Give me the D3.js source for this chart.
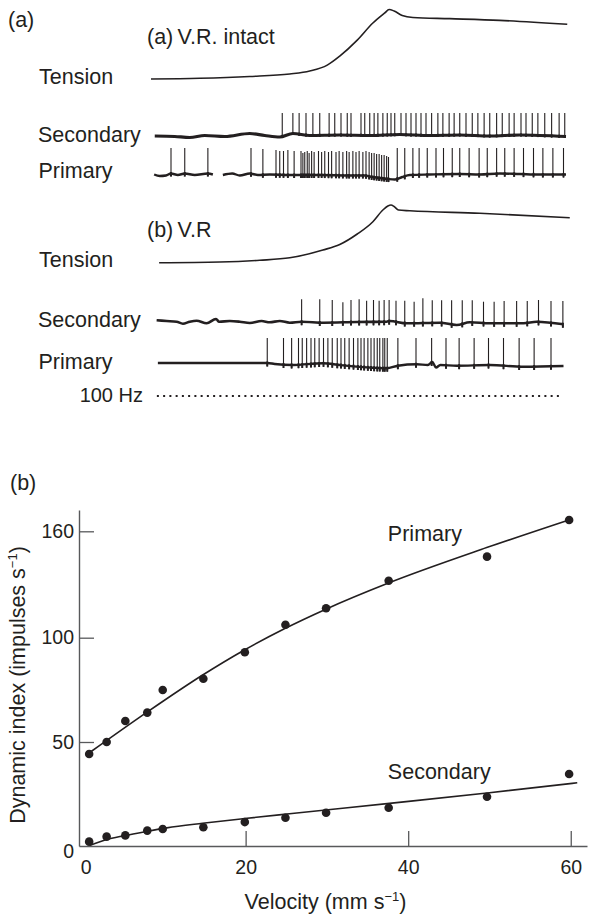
<!DOCTYPE html>
<html>
<head>
<meta charset="utf-8">
<script src="https://cdn.jsdelivr.net/npm/d3@7/dist/d3.min.js"></script>
<style>
  html, body { margin:0; padding:0; background:#fff; }
  svg { display:block; }
  text { font-family: "Liberation Sans", Arial, Helvetica, sans-serif; fill:#231f20; }
</style>
</head>
<body>
<svg id="fig" width="591" height="915"></svg>
<script>
// ================= DATA =================
// ---- Panel (a): recordings, time in ms from start of sweep ----
const sweepMs = [0, 672];

// Tension, % of peak
const tensionIntactT = [0, 78, 158, 222, 254, 282, 302, 330, 355, 374, 381, 389, 402, 419, 478, 558, 666];
const tensionIntactV = [0, 1, 3.6, 7.2, 11.5, 20, 33, 56, 80.6, 95, 100, 97.8, 91.4, 88.5, 86.8, 84.3, 78.7];
const tensionCutT = [13, 110, 174, 222, 275, 302, 330, 355, 371, 379, 384, 389, 396, 414, 526, 670];
const tensionCutV = [0, 1.2, 4.2, 8.5, 22, 31.5, 49.7, 71, 91.3, 98.3, 100, 97.4, 91.3, 90, 85.8, 78];

// (a) V.R. intact — secondary ending
const secIntactBaseT = [6, 38, 62, 86, 118, 158, 182, 206, 227, 254, 302, 350, 398, 446, 494, 542, 590, 664];
const secIntactBaseV = [0, -0.5, -1.5, 0.5, -0.5, 2.5, 0.5, -1, 2.5, 0.5, 1, 0.5, 1.5, 0.5, 1, 0, 1, -0.5];
const secIntactSpikeT = [210, 227, 237, 248, 259, 270, 285, 294, 304, 314, 320, 336, 342, 350, 357, 363, 371, 378, 384, 390,
  400, 408, 416, 424, 432, 440, 449, 459, 467, 477, 485, 494, 504, 514, 523, 533, 542, 553, 562, 573, 581, 592, 600, 610,
  619, 630, 641, 653, 662];
const secIntactSpikeAmp = 23;

// (a) V.R. intact — primary ending (two pieces of trace)
const priIntactBase1T = [5, 14, 24, 32, 43, 54, 70, 91, 99];
const priIntactBase1V = [-0.5, -2, -1.5, 0.5, -1, 0.5, -1, 0.5, -0.5];
const priIntactBase2T = [115, 130, 142, 158, 171, 190, 222, 270, 318, 342, 354, 366, 379, 390, 402, 414, 446, 494, 526, 558, 590, 622, 664];
const priIntactBase2V = [-1, 0.5, -1.5, 0.5, -1, -0.5, -1, -1, -1.5, -1.5, -3, -4, -5, -5.5, -3, -1, -0.5, 0, -0.5, 0.5, 0, -0.5, -0.5];
const priIntactSpikeT = [32, 54, 91, 160, 179, 200, 206, 212, 219, 229, 240, 243, 246, 250, 253, 257, 261, 268, 273, 278,
  284, 289, 296, 301, 307, 313, 317, 323, 328, 333, 339, 344, 349, 353, 357, 361, 365, 369, 373, 377, 380,
  394, 406, 419, 429, 442, 456, 468, 482, 494, 509, 525, 538, 553, 566, 581, 596, 612, 627, 643, 660];
const priIntactSpikeAmp = [26, 26, 26, 26, 25, 24, 23, 23, 24, 23, 23, 21, 22, 23, 21, 23, 22, 23, 22, 23,
  22, 23, 22, 23, 22, 23, 22, 23, 22, 23, 22, 23, 22, 21, 21, 20, 20, 19, 19, 18, 17,
  26, 26, 26, 26, 26, 26, 26, 26, 26, 26, 26, 26, 26, 26, 26, 26, 26, 26, 26, 26];

// (b) V.R cut — secondary ending
const secCutBaseT = [9, 25, 41, 51, 62, 73, 89, 104, 109, 126, 142, 158, 177, 190, 206, 222, 241, 276, 329, 377, 382, 409, 462, 489, 510, 542, 596, 617, 660];
const secCutBaseV = [1.7, 1, 0.3, -1.7, 0.3, 1.3, -1.3, 3, 0.3, 1, 0.3, -1, 1, -0.3, 1, -0.7, 0.3, -0.7, 0, 0.3, 1, -1.3, -0.7, -3, -0.3, -1.3, -1.3, 0.3, -2.3];
const secCutSpikeT = [241, 270, 290, 307, 320, 333, 345, 356, 365, 373, 381, 392, 406, 421, 435, 450, 465, 481, 498, 514, 532, 549, 565, 585, 602, 620, 640, 659];
const secCutSpikeAmp = [22.7, 22.7, 22, 19.7, 22, 22.7, 21.3, 22, 21.3, 22, 22, 21.3, 21.3, 20.3, 23.7, 21.7, 21.7, 21.7, 21.7, 21.7, 20.3, 20.3, 21, 21, 21, 22, 21, 21];

// (b) V.R cut — primary ending
const priCutBaseT = [11, 186, 198, 227, 275, 302, 355, 377, 395, 425, 443, 450, 456, 463, 489, 542, 596, 660];
const priCutBaseV = [0, 0, -1, -2, -0.3, -2, -4.7, -5.3, -2.7, -1.3, -2, 1, -4.5, -2, -2.7, -2, -3.7, -3];
const priCutSpikeT = [186, 212, 225, 236, 242, 249, 256, 262, 269, 276, 283, 290, 298, 304, 310, 317, 324, 331, 336, 341,
  347, 352, 357, 362, 366, 371, 374, 378, 395, 424, 449, 472, 493, 517, 540, 564, 589, 613, 640];
const priCutSpikeAmp = 25;

// 100 Hz time marker
const markerRangeMs = [11, 658];
const markerStepMs = 10;

// ---- Panel (b): dynamic index vs velocity ----
const velocity       = [0.75, 2.9, 5.2, 7.9, 9.8, 14.8, 19.9, 24.9, 29.9, 37.6, 49.7, 59.8];
const primaryIndex   = [44.2, 50, 60.1, 64.1, 74.9, 80.3, 93, 107.3, 116.6, 132.1, 145.7, 166.4];
const secondaryIndex = [2.1, 4.5, 5.1, 7.4, 8.2, 9.0, 11.5, 13.6, 16.0, 18.4, 23.7, 34.6];
const primaryFitV   = [0.95, 7.83, 14.67, 19.8, 24.83, 29.87, 37.5, 49.66, 60.24];
const primaryFitY   = [45.3, 64.2, 82.0, 94.0, 105.2, 116.1, 130.7, 150.8, 167.1];
const secondaryFitV = [0.86, 2.8, 5.1, 7.8, 10.3, 14.7, 19.9, 25.4, 37.7, 50, 60.8];
const secondaryFitY = [0.3, 3.0, 5.0, 7.0, 8.7, 10.9, 13.2, 15.5, 20.5, 25.6, 30.4];
const xTicks = [0, 20, 40, 60];
const yTicks = [0, 50, 100, 160];
const yBreaks = [0, 50, 100, 160, 172];   // axis is drawn with equal spacing between labelled ticks
const xDomain = [-0.5, 62];

// ================= LAYOUT =================
const svg = d3.select("#fig");
const INK = "#231f20";
const LBL = 21.5, TICK = 19.5;

const tx = d3.scaleLinear().domain(sweepMs).range([151, 571]);

function addText(x, y, s, size, anchor) {
  return svg.append("text").attr("x", x).attr("y", y).attr("font-size", size)
    .attr("text-anchor", anchor || "start").text(s);
}

function tension(T, V, base, peak) {
  const y = d3.scaleLinear().domain([0, 100]).range([base, peak]);
  const line = d3.line().x(d => tx(d[0])).y(d => y(d[1])).curve(d3.curveMonotoneX);
  svg.append("path").attr("d", line(d3.zip(T, V))).attr("fill", "none")
    .attr("stroke", INK).attr("stroke-width", 1.6);
}

function trace(segs, spikeT, amp, base, o) {
  const y = d3.scaleLinear().domain([0, 30]).range([base, base - 30]);
  const line = d3.line().x(d => tx(d[0])).y(d => y(d[1])).curve(d3.curveMonotoneX);
  const knots = segs.flat();
  const baseAt = d3.scaleLinear().domain(knots.map(d => d[0])).range(knots.map(d => d[1])).clamp(true);
  const g = svg.append("g");
  segs.forEach(s => g.append("path").attr("d", line(s)).attr("fill", "none")
    .attr("stroke", INK).attr("stroke-width", o.w).attr("stroke-linejoin", "round"));
  const spikes = spikeT.map((t, i) => [t, Array.isArray(amp) ? amp[i] : amp]);
  g.selectAll(null).data(spikes).join("line")
    .attr("x1", d => tx(d[0])).attr("x2", d => tx(d[0]))
    .attr("y1", d => y(baseAt(d[0])) + o.stub).attr("y2", d => y(d[1]))
    .attr("stroke", INK).attr("stroke-width", 1.1);
  g.selectAll(null).data(spikes).join("line")
    .attr("x1", d => tx(d[0])).attr("x2", d => tx(d[0]))
    .attr("y1", d => y(baseAt(d[0])) + o.stub).attr("y2", d => y(baseAt(d[0])) - 1.5)
    .attr("stroke", INK).attr("stroke-width", 2);
}

// ---- panel (a) ----
addText(8, 27, "(a)", LBL);
addText(147, 44, "(a)\u2009V.R. intact", LBL);
addText(39, 84, "Tension", LBL);
addText(38, 141.5, "Secondary", LBL);
addText(38.5, 178, "Primary", LBL);
tension(tensionIntactT, tensionIntactV, 79, 9.5);
trace([d3.zip(secIntactBaseT, secIntactBaseV)], secIntactSpikeT, secIntactSpikeAmp, 136, { w: 3.2, stub: 1.5 });
trace([d3.zip(priIntactBase1T, priIntactBase1V), d3.zip(priIntactBase2T, priIntactBase2V)],
  priIntactSpikeT, priIntactSpikeAmp, 174, { w: 2.4, stub: 3 });

addText(147, 237, "(b)\u2009V.R", LBL);
addText(39, 266.7, "Tension", LBL);
addText(38, 327.3, "Secondary", LBL);
addText(38.5, 369, "Primary", LBL);
addText(143, 402.3, "100 Hz", 20, "end");
tension(tensionCutT, tensionCutV, 262.7, 205);
trace([d3.zip(secCutBaseT, secCutBaseV)], secCutSpikeT, secCutSpikeAmp, 322, { w: 2.6, stub: 3.5 });
trace([d3.zip(priCutBaseT, priCutBaseV)], priCutSpikeT, priCutSpikeAmp, 363, { w: 2.4, stub: 3.5 });
svg.append("g").selectAll("rect").data(d3.range(markerRangeMs[0], markerRangeMs[1], markerStepMs)).join("rect")
  .attr("x", d => tx(d) - 1).attr("y", 395).attr("width", 2).attr("height", 2).attr("fill", INK);

// ---- panel (b) ----
addText(10, 490, "(b)", LBL);
const x = d3.scaleLinear().domain(xDomain).range([79, 587]);
const y = d3.scaleLinear().domain(yBreaks).range([846, 742, 637.7, 531.3, 510]);
const AX = "#58595b";

const gx = svg.append("g").attr("transform", "translate(0,846)")
  .call(d3.axisBottom(x).tickValues(xTicks).tickSizeInner(-15).tickSizeOuter(0).tickPadding(14));
const gy = svg.append("g").attr("transform", "translate(79,0)")
  .call(d3.axisLeft(y).tickValues(yTicks).tickSizeInner(-15).tickSizeOuter(0).tickPadding(5));
[gx, gy].forEach(g => {
  g.select(".domain").attr("stroke", AX).attr("stroke-width", 1.4);
  g.selectAll(".tick line").attr("stroke", AX).attr("stroke-width", 1.3);
  g.selectAll(".tick text").attr("font-size", TICK).attr("font-family", "Liberation Sans, Arial, sans-serif").attr("fill", INK);
});
gx.selectAll(".tick").filter(d => d === 0).select("line").remove();
gx.selectAll(".tick").filter(d => d === 0).select("text").attr("x", 2.5);
gy.selectAll(".tick").filter(d => d === 0).select("line").remove();
gy.selectAll(".tick").filter(d => d === 0).select("text").attr("dy", "0.6em");
gy.selectAll(".tick text").attr("x", -5);

const fit = d3.line().x(d => x(d[0])).y(d => y(d[1])).curve(d3.curveMonotoneX);
svg.append("path").attr("d", fit(d3.zip(primaryFitV, primaryFitY))).attr("fill", "none").attr("stroke", INK).attr("stroke-width", 1.6);
svg.append("path").attr("d", fit(d3.zip(secondaryFitV, secondaryFitY))).attr("fill", "none").attr("stroke", INK).attr("stroke-width", 1.6);

svg.append("g").selectAll("circle").data(d3.zip(velocity, primaryIndex)).join("circle")
  .attr("cx", d => x(d[0])).attr("cy", d => y(d[1])).attr("r", 4.3).attr("fill", INK);
svg.append("g").selectAll("circle").data(d3.zip(velocity, secondaryIndex)).join("circle")
  .attr("cx", d => x(d[0])).attr("cy", d => y(d[1])).attr("r", 4.3).attr("fill", INK);

addText(x(37.5), y(154.5), "Primary", LBL);
addText(x(37.5), y(32), "Secondary", LBL);

// axis titles
const xt = svg.append("text").attr("x", 325.5).attr("y", 909).attr("font-size", LBL).attr("text-anchor", "middle");
xt.append("tspan").text("Velocity (mm s");
xt.append("tspan").attr("dy", -8).attr("font-size", 13).text("\u22121");
xt.append("tspan").attr("dy", 8).text(")");

const yt = svg.append("text").attr("transform", "translate(25,685) rotate(-90)").attr("font-size", LBL).attr("text-anchor", "middle");
yt.append("tspan").text("Dynamic index (impulses s");
yt.append("tspan").attr("dy", -8).attr("font-size", 13).text("\u22121");
yt.append("tspan").attr("dy", 8).text(")");
</script>
</body>
</html>
